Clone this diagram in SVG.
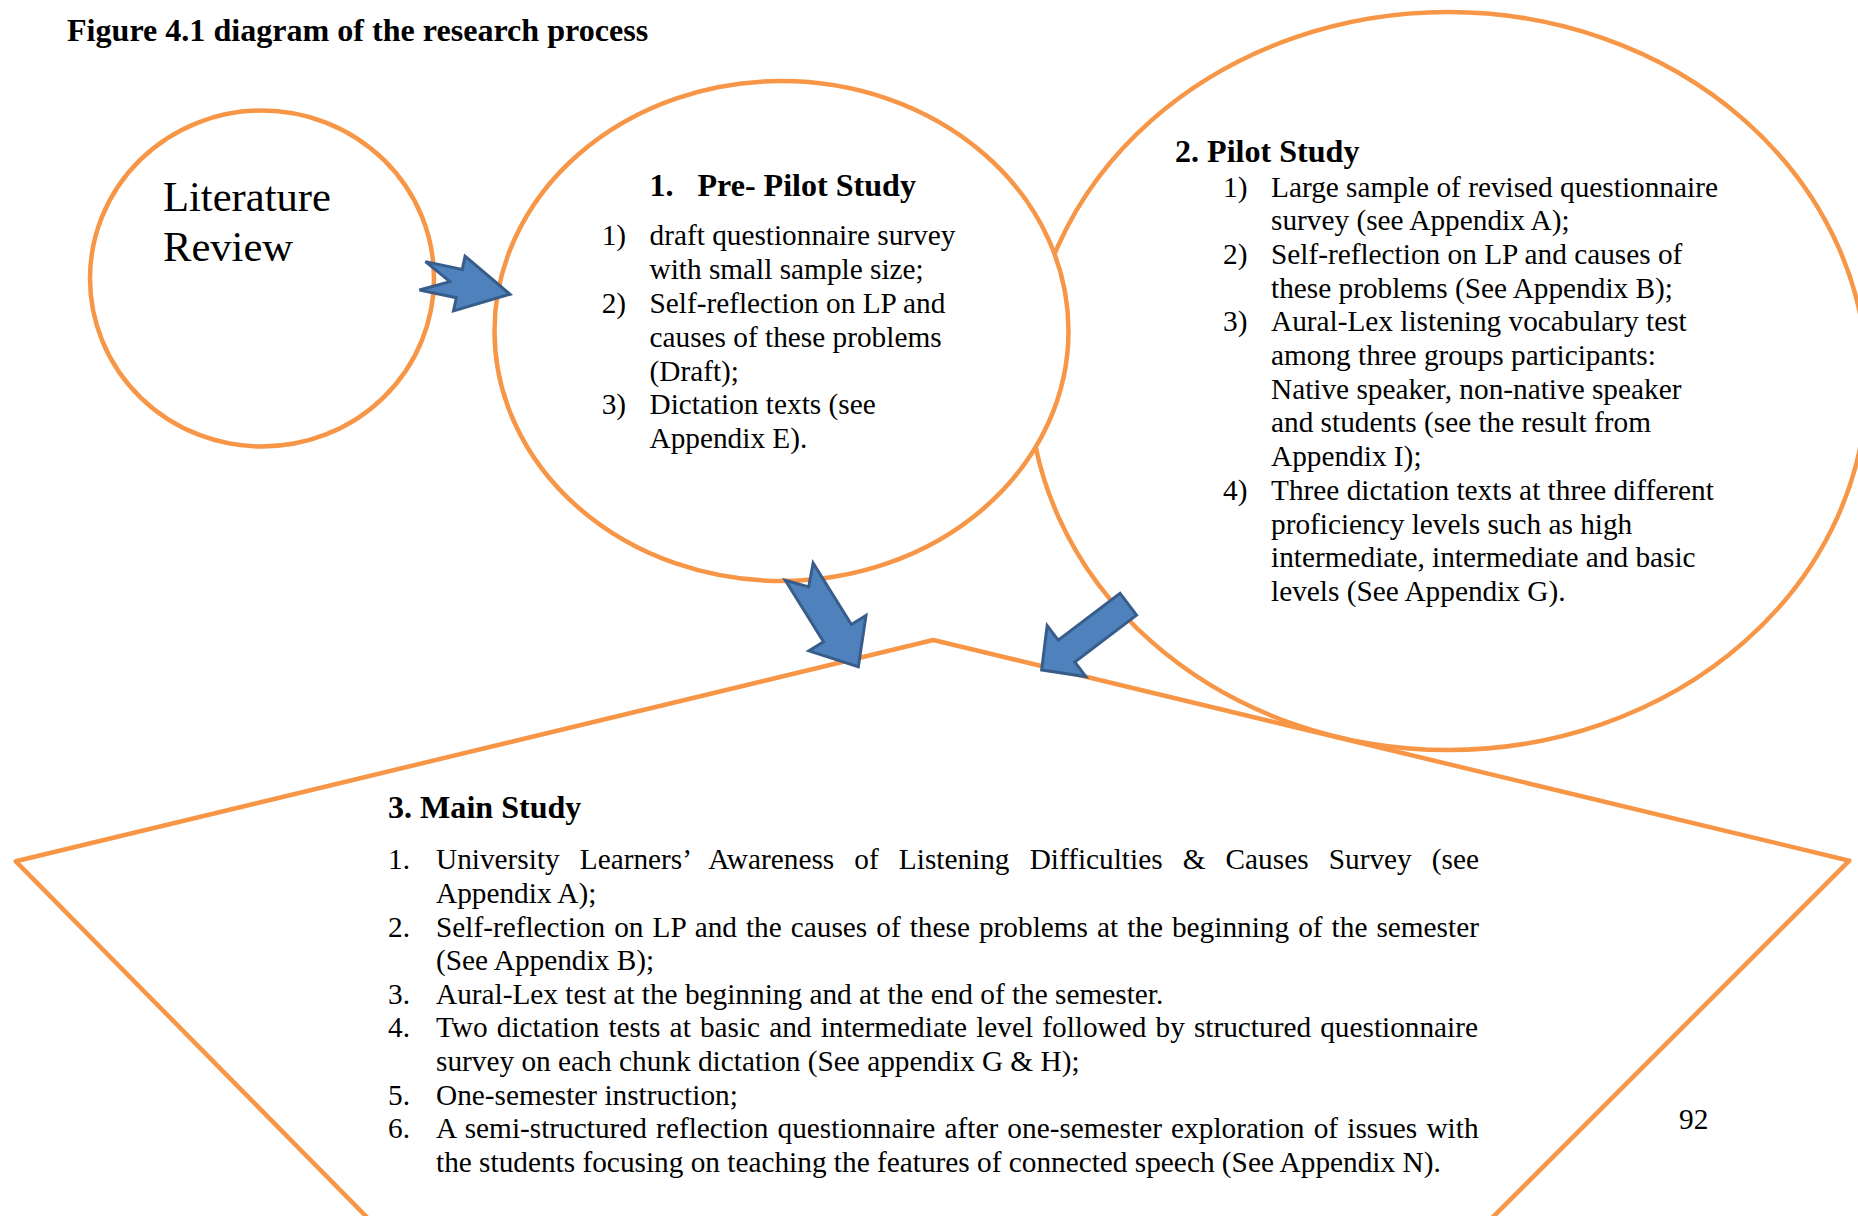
<svg xmlns="http://www.w3.org/2000/svg" width="1858" height="1216" viewBox="0 0 1858 1216">
<defs>
<style>
.shape{fill:#FFFFFF;stroke:#F79646;stroke-width:4.5}
.open{fill:none;stroke:#F79646;stroke-width:4.5;stroke-linejoin:round}
.arrow{fill:#4F81BD;stroke:#385D8A;stroke-width:3;stroke-linejoin:miter}
text{font-family:"Liberation Serif","Times New Roman",serif;fill:#000000}
.b{font-weight:bold;font-size:32.1px}
.t{font-size:29.3px}
.big{font-size:42.6px}
</style>
</defs>
<rect width="1858" height="1216" fill="#FFFFFF"/>
<text class="b" x="67" y="40.7">Figure 4.1 diagram of the research process</text>

<g id="pilot-study">
<ellipse class="shape" cx="1448" cy="381" rx="419" ry="369"/>
<text class="b" x="1175" y="162">2. Pilot Study</text>
<text class="t" x="1223" y="196.5">1)</text>
<text class="t" x="1271" y="196.5">Large sample of revised questionnaire</text>
<text class="t" x="1271" y="230.2">survey (see Appendix A);</text>
<text class="t" x="1223" y="263.9">2)</text>
<text class="t" x="1271" y="263.9">Self-reflection on LP and causes of</text>
<text class="t" x="1271" y="297.6">these problems (See Appendix B);</text>
<text class="t" x="1223" y="331.3">3)</text>
<text class="t" x="1271" y="331.3">Aural-Lex listening vocabulary test</text>
<text class="t" x="1271" y="365">among three groups participants:</text>
<text class="t" x="1271" y="398.7">Native speaker, non-native speaker</text>
<text class="t" x="1271" y="432.4">and students (see the result from</text>
<text class="t" x="1271" y="466.1">Appendix I);</text>
<text class="t" x="1223" y="499.8">4)</text>
<text class="t" x="1271" y="499.8">Three dictation texts at three different</text>
<text class="t" x="1271" y="533.5">proficiency levels such as high</text>
<text class="t" x="1271" y="567.2">intermediate, intermediate and basic</text>
<text class="t" x="1271" y="600.9">levels (See Appendix G).</text>
</g>

<g id="pre-pilot-study">
<ellipse class="shape" cx="781.5" cy="331" rx="287" ry="250"/>
<text class="b" x="649.5" y="196">1.</text>
<text class="b" x="697.4" y="196">Pre- Pilot Study</text>
<text class="t" x="601.7" y="245.2">1)</text>
<text class="t" x="649.5" y="245.2">draft questionnaire survey</text>
<text class="t" x="649.5" y="279">with small sample size;</text>
<text class="t" x="601.7" y="312.9">2)</text>
<text class="t" x="649.5" y="312.9">Self-reflection on LP and</text>
<text class="t" x="649.5" y="346.7">causes of these problems</text>
<text class="t" x="649.5" y="380.6">(Draft);</text>
<text class="t" x="601.7" y="414.4">3)</text>
<text class="t" x="649.5" y="414.4">Dictation texts (see</text>
<text class="t" x="649.5" y="448.3">Appendix E).</text>
</g>

<g id="literature-review">
<ellipse class="shape" cx="262" cy="278.5" rx="172" ry="168"/>
<text class="big" x="163" y="210.7">Literature</text>
<text class="big" x="163" y="260.7">Review</text>
</g>

<g id="main-study">
<polygon class="open" points="933.3,640 1849.3,860.7 1491.4,1218.6 368.3,1218.6 15.8,861.3"/>
<text class="b" x="388" y="817.5">3. Main Study</text>
<text class="t" x="388" y="869.3">1.</text>
<text class="t" x="436" y="869.3" word-spacing="12.8">University Learners’ Awareness of Listening Difficulties &amp; Causes Survey (see</text>
<text class="t" x="436" y="902.9">Appendix A);</text>
<text class="t" x="388" y="936.5">2.</text>
<text class="t" x="436" y="936.5" word-spacing="1.7">Self-reflection on LP and the causes of these problems at the beginning of the semester</text>
<text class="t" x="436" y="970.1">(See Appendix B);</text>
<text class="t" x="388" y="1003.7">3.</text>
<text class="t" x="436" y="1003.7">Aural-Lex test at the beginning and at the end of the semester.</text>
<text class="t" x="388" y="1037.3">4.</text>
<text class="t" x="436" y="1037.3" word-spacing="1.8">Two dictation tests at basic and intermediate level followed by structured questionnaire</text>
<text class="t" x="436" y="1070.9">survey on each chunk dictation (See appendix G &amp; H);</text>
<text class="t" x="388" y="1104.5">5.</text>
<text class="t" x="436" y="1104.5">One-semester instruction;</text>
<text class="t" x="388" y="1138.1">6.</text>
<text class="t" x="436" y="1138.1" word-spacing="1.85">A semi-structured reflection questionnaire after one-semester exploration of issues with</text>
<text class="t" x="436" y="1171.7">the students focusing on teaching the features of connected speech (See Appendix N).</text>
</g>

<text class="t" x="1679" y="1129">92</text>

<g id="connectors">
<polygon class="arrow" transform="translate(422.5,275.8) rotate(11.9)" points="0,-14.5 37.6,-14.5 37.6,-28 89.4,0 37.6,28 37.6,14.5 0,14.5 28,0"/>
<polygon class="arrow" transform="translate(799.2,571.7) rotate(58.1)" points="0,-16.4 72.4,-16.4 72.4,-33.6 111.9,0 72.4,33.6 72.4,16.4 0,16.4 18,0"/>
<polygon class="arrow" transform="translate(1128.3,604.2) rotate(142.8)" points="0,-13.7 77.6,-13.7 77.6,-32 108.8,0 77.6,32 77.6,13.7 0,13.7"/>
</g>
</svg>
